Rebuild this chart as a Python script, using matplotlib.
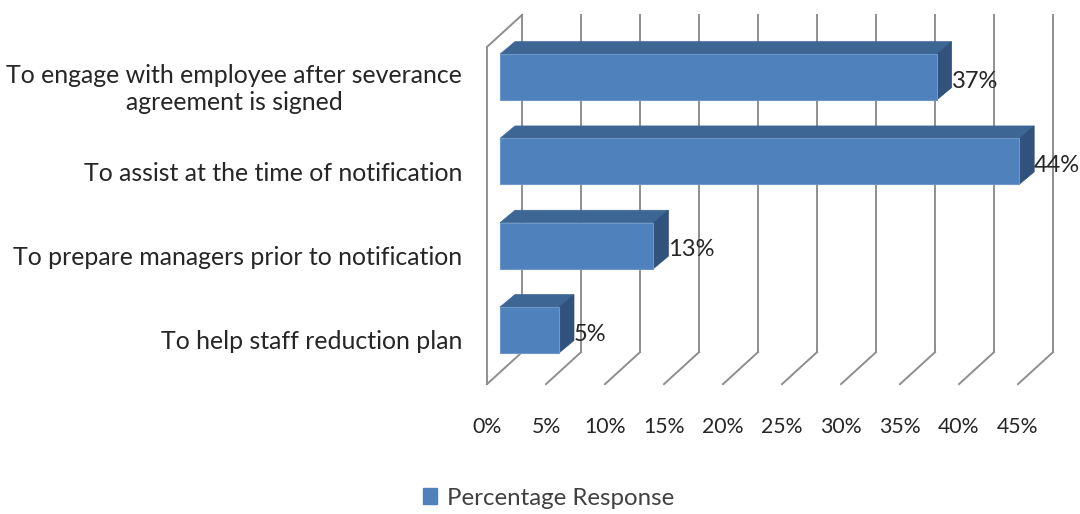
import matplotlib
matplotlib.use("Agg")
import matplotlib.pyplot as plt
from matplotlib.patches import Polygon, Patch

plt.rcParams['font.family'] = ['Lato', 'DejaVu Sans']

categories = [
    "To help staff reduction plan",
    "To prepare managers prior to notification",
    "To assist at the time of notification",
    "To engage with employee after severance\nagreement is signed",
]
values = [5, 13, 44, 37]
ticks = [0, 5, 10, 15, 20, 25, 30, 35, 40, 45]
series_name = "Percentage Response"

FRONT = "#4F81BD"
TOP = "#3D6694"
SIDE = "#31527D"
GRID = "#8E8E8E"
TEXT = "#262626"

BAR_H = 0.545
BAR_DX, BAR_DY = 1.27, 0.148      # bar depth offset (x in %, y in category units)
WALL_FX, WALL_FY = -1.10, -0.142  # front plane of the walls relative to bar fronts
WALL_DX, WALL_DY = 2.97, 0.38     # wall depth
Y_LO, Y_HI = -0.5, len(categories) - 0.5

fig = plt.figure(figsize=(10.8, 5.14), dpi=100)
ax = fig.add_axes([0, 0, 1, 1])
ax.set_xlim((0 - 500) / 11.8, (1080 - 500) / 11.8)
ax.set_ylim((330 - 514) / 84.3, 330 / 84.3)
ax.axis("off")

# walls: back gridlines, floor diagonals, left wall
front_lo, front_hi = Y_LO + WALL_FY, Y_HI + WALL_FY
back_lo, back_hi = front_lo + WALL_DY, front_hi + WALL_DY
for t in ticks:
    xb = t + WALL_FX + WALL_DX
    ax.plot([xb, xb], [back_lo, back_hi], color=GRID, lw=1.4, zorder=1)
    ax.plot([t + WALL_FX, xb], [front_lo, back_lo], color=GRID, lw=1.4, zorder=1)
x0 = WALL_FX
ax.plot([x0, x0], [front_lo, front_hi], color=GRID, lw=1.4, zorder=1)
ax.plot([x0, x0 + WALL_DX], [front_hi, back_hi], color=GRID, lw=1.4, zorder=1)

# 3D bars
for i, v in enumerate(values):
    y0, y1 = i - BAR_H / 2, i + BAR_H / 2
    ax.add_patch(Polygon([(0, y1), (v, y1), (v + BAR_DX, y1 + BAR_DY), (BAR_DX, y1 + BAR_DY)],
                         closed=True, fc=TOP, ec=TOP, lw=0.5, zorder=2))
    ax.add_patch(Polygon([(v, y0), (v + BAR_DX, y0 + BAR_DY), (v + BAR_DX, y1 + BAR_DY), (v, y1)],
                         closed=True, fc=SIDE, ec=SIDE, lw=0.5, zorder=2))
    ax.add_patch(Polygon([(0, y0), (v, y0), (v, y1), (0, y1)],
                         closed=True, fc=FRONT, ec="#6E97C8", lw=0.8, zorder=3))
    ax.text(v + BAR_DX, i - 0.05, f"{v}%", ha="left", va="center", fontsize=17,
            color=TEXT, zorder=4)

# category labels
for i, c in enumerate(categories):
    ax.text(-3.22, i + WALL_FY, c, ha="right", va="center", multialignment="center",
            fontsize=17.9, color=TEXT, linespacing=1.2)

# x tick labels
for t in ticks:
    ax.text(t + WALL_FX, -1.15, f"{t}%", ha="center", va="center", fontsize=15.3, color=TEXT)

fig.legend(handles=[Patch(fc=FRONT, ec=FRONT)], labels=[series_name], loc="center",
           bbox_to_anchor=(0.508, 0.031), frameon=False, fontsize=17.3,
           handlelength=0.6, handleheight=0.6, handletextpad=0.4, labelcolor="#404040")

fig.savefig("out.png", dpi=100)
